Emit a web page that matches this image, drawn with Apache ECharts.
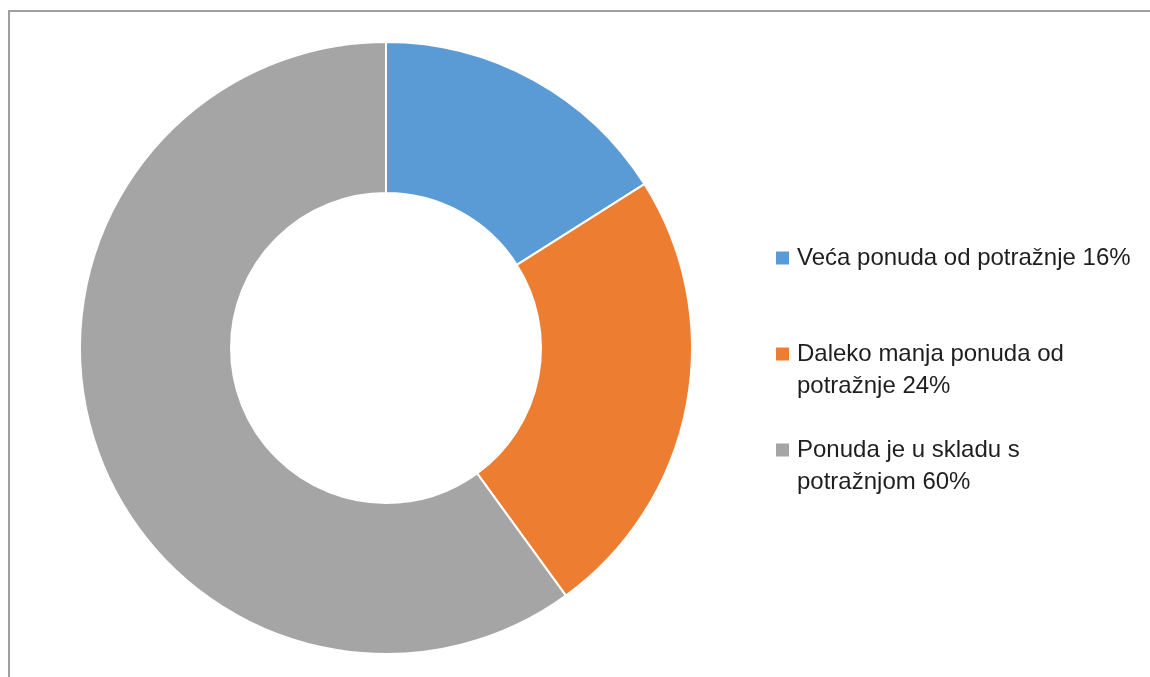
<!DOCTYPE html>
<html>
<head>
<meta charset="utf-8">
<script src="https://cdn.jsdelivr.net/npm/echarts@6/dist/echarts.min.js"></script>
<style>
  html, body { margin: 0; padding: 0; background: #fff; }
  #frame {
    position: absolute; left: 8px; top: 10px;
    width: 1200px; height: 720px;
    border-left: 2px solid #a0a0a0; border-top: 2px solid #a0a0a0;
  }
  #ponudaChart { position: absolute; left: 0; top: 0; width: 1150px; height: 677px; }
</style>
</head>
<body>
<div id="frame"></div>
<div id="ponudaChart"></div>
<script>
// kategorije i udjeli (%)
const categories = [
  'Veća ponuda od potražnje',
  'Daleko manja ponuda od potražnje',
  'Ponuda je u skladu s potražnjom'
];
const shares = [16, 24, 60];
// tekst legende, prelomljen kao na slici
const legendText = [
  'Veća ponuda od potražnje 16%',
  'Daleko manja ponuda od\npotražnje 24%',
  'Ponuda je u skladu s\npotražnjom 60%'
];
const colors = ['#5B9BD5', '#ED7D31', '#A5A5A5'];

const myChart = echarts.init(document.getElementById('ponudaChart'), null, { renderer: 'canvas' });

const option = {
  animation: false,
  color: colors,
  legend: {
    orient: 'vertical',
    left: 776,
    top: 210,
    padding: 0,
    itemGap: 0,
    itemWidth: 13,
    itemHeight: 13,
    icon: 'rect',
    itemStyle: { borderWidth: 0 },
    data: categories,
    textStyle: {
      fontFamily: 'Liberation Sans',
      fontSize: 24,
      lineHeight: 32,
      color: '#1e1e1e',
      padding: [0, 0, 0, 3]
    },
    formatter: function (name) {
      const i = categories.indexOf(name);
      let txt = legendText[i];
      // prazan red gore da kvadratić stoji uz prvi red teksta
      if (txt.indexOf('\n') < 0) txt = txt + '\n ';
      return ' \n' + txt;
    }
  },
  series: [
    {
      type: 'pie',
      center: [386, 348],
      radius: [155, 306],
      startAngle: 90,
      clockwise: true,
      label: { show: false },
      labelLine: { show: false },
      itemStyle: { borderColor: '#fff', borderWidth: 2 },
      emphasis: { disabled: true },
      data: categories.map((c, i) => ({ name: c, value: shares[i] }))
    }
  ]
};

myChart.setOption(option);
</script>
</body>
</html>
